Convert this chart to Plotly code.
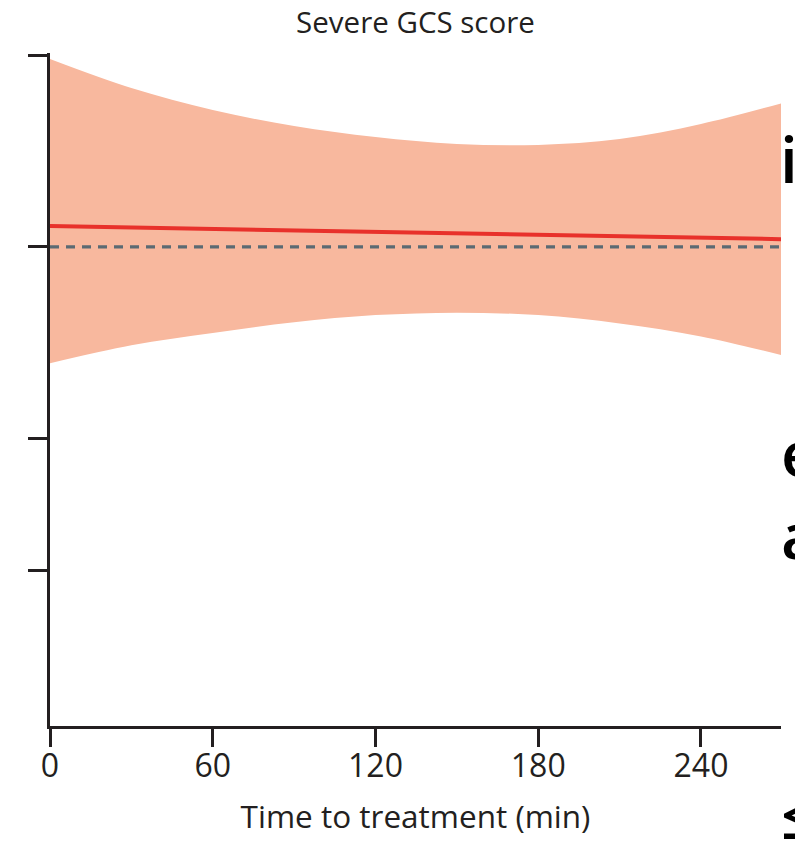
import math
import plotly.graph_objects as go

# ---- data ----
time_min = [0, 30, 60, 90, 120, 150, 180, 210, 240, 270]
odds_ratio = [1.078, 1.072, 1.066, 1.060, 1.055, 1.049, 1.043, 1.038, 1.034, 1.028]
ci_upper = [1.974, 1.777, 1.641, 1.549, 1.488, 1.451, 1.446, 1.477, 1.560, 1.683]
ci_lower = [0.656, 0.700, 0.732, 0.761, 0.781, 0.788, 0.781, 0.758, 0.723, 0.675]
ref_x = [0, 270]
ref_y = [1, 1]
x_ticks = [0, 60, 120, 180, 240]
y_ticks = [2, 1, 0.5, 0.31]

AXIS = "#231F20"
FONT = "Open Sans"

fig = go.Figure()
fig.add_trace(go.Scatter(x=time_min, y=ci_lower, mode="lines",
                         line=dict(width=0, shape="spline", color="#F8B89E"),
                         showlegend=False, hoverinfo="skip"))
fig.add_trace(go.Scatter(x=time_min, y=ci_upper, mode="lines", fill="tonexty",
                         fillcolor="#F8B89E",
                         line=dict(width=0, shape="spline", color="#F8B89E"),
                         showlegend=False, hoverinfo="skip"))
fig.add_trace(go.Scatter(x=ref_x, y=ref_y, mode="lines",
                         line=dict(color="#5B6A73", width=3.3, dash="9px,7px"),
                         showlegend=False))
fig.add_trace(go.Scatter(x=time_min, y=odds_ratio, mode="lines",
                         line=dict(color="#E8312B", width=4),
                         showlegend=False))

L, R, T, B = 50, 14, 53, 117
W, H = 795, 843
ph = H - T - B
pw = W - L - R


def px_x(x):
    return (x - L) / pw


def px_y(y):
    return (H - B - y) / ph


# partial letters of the neighbouring panel, cut by the right edge
fragments = [
    ("i", 778, 158),
    ("e", 779, 452),
    ("a", 779, 534),
    ("≤", 779, 814),
]
for txt, xp, yp in fragments:
    fig.add_annotation(text=txt, xref="paper", yref="paper", x=px_x(xp), y=px_y(yp),
                       xanchor="left", yanchor="middle", showarrow=False,
                       font=dict(family=FONT, size=64, color="black", weight=600))

fig.update_layout(
    width=W, height=H,
    margin=dict(l=L, r=R, t=T, b=B),
    paper_bgcolor="white", plot_bgcolor="white",
    font=dict(family=FONT, color=AXIS),
    title=dict(text="Severe GCS score", x=(L + pw / 2) / W, xanchor="center",
               y=1 - 23 / H, yanchor="middle", yref="container",
               font=dict(size=29.5, color=AXIS, family=FONT)),
    xaxis=dict(range=[0, 269.5], showline=True, linecolor=AXIS, linewidth=3,
               ticks="outside", ticklen=18, tickwidth=3, tickcolor=AXIS,
               tickvals=x_ticks, ticktext=[str(v) for v in x_ticks],
               tickfont=dict(size=32, family=FONT, color=AXIS),
               ticklabelstandoff=-8,
               showgrid=False, zeroline=False,
               title=dict(text="Time to treatment (min)", standoff=21,
                          font=dict(size=31.5, family=FONT, color=AXIS))),
    yaxis=dict(type="log", range=[math.log10(0.1765), math.log10(2.017)],
               showline=True, linecolor=AXIS, linewidth=3,
               ticks="outside", ticklen=19, tickwidth=3, tickcolor=AXIS,
               tickvals=y_ticks, showticklabels=False,
               showgrid=False, zeroline=False),
)

fig.write_html("out.html")
